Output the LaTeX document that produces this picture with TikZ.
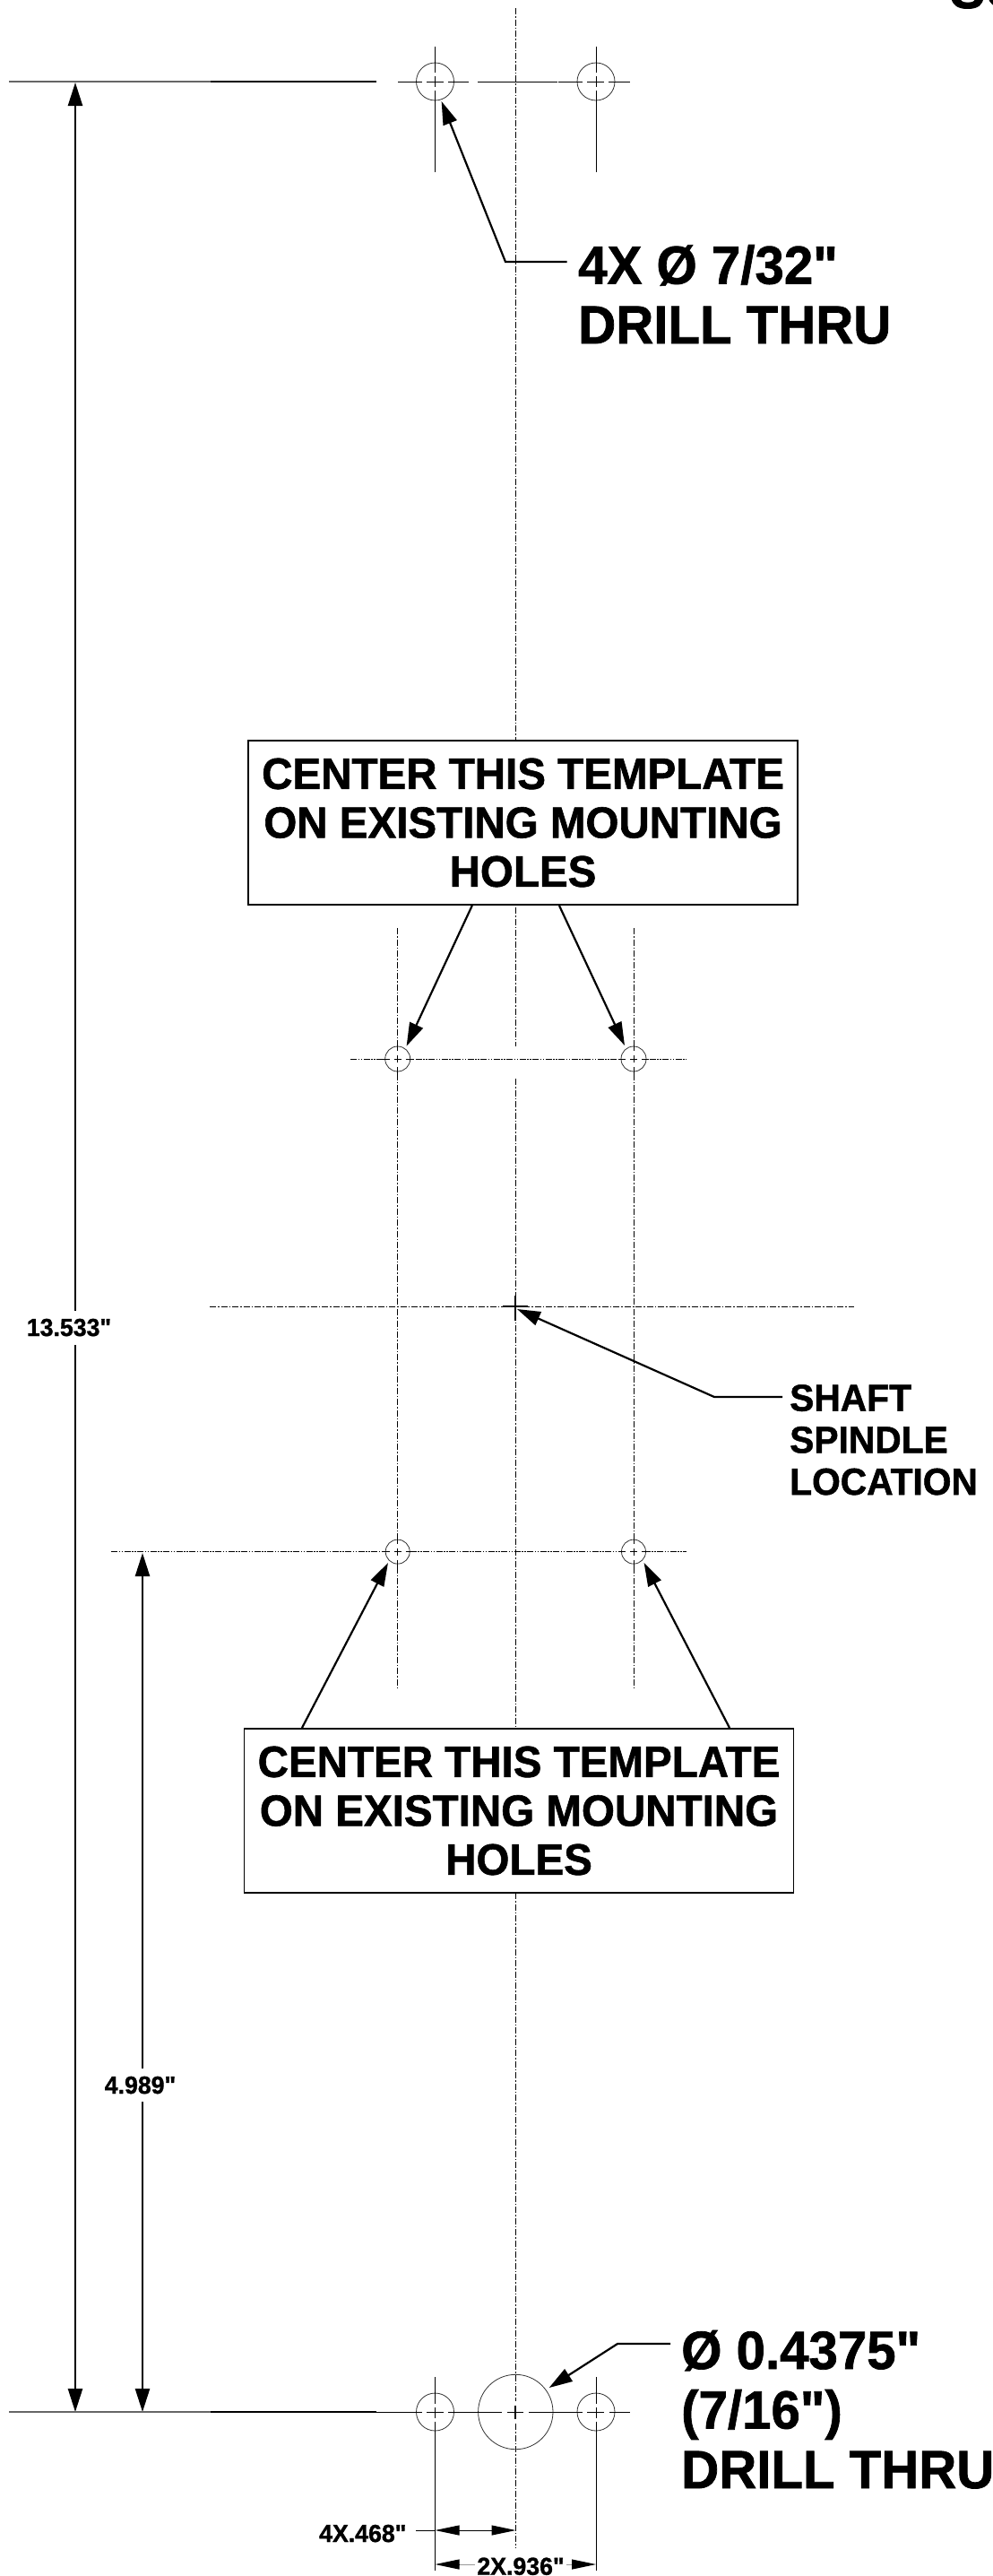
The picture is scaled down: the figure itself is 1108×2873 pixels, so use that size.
\documentclass[tikz,border=0pt]{standalone}
\usepackage{fontspec}
\defaultfontfeatures[\rmfamily]{}
\setmainfont[FakeStretch=0.97,FakeBold=1.2]{Liberation Sans}
\usetikzlibrary{arrows.meta}
\tikzset{
  x=1pt,y=-1pt,
  lab/.style={font=\bfseries\fontsize{#1}{#1}\selectfont,inner sep=0pt,anchor=base west},
  lab/.default=60,
  bigtxt/.style={font=\bfseries\fontsize{60}{66.5}\selectfont,inner sep=0pt,align=left},
  midtxt/.style={font=\bfseries\fontsize{42}{46.7}\selectfont,inner sep=0pt,align=left},
  boxtxt/.style={font=\bfseries\fontsize{49}{54.5}\selectfont,inner sep=0pt,align=center,draw=black,fill=white,minimum width=613,minimum height=183},
  dimtxt/.style={font=\bfseries\fontsize{27.5}{27.5}\selectfont,inner sep=0pt,anchor=base},
  cl/.style={line width=0.9pt,dash pattern=on 7pt off 2pt on 1.5pt off 2pt},
  cls/.style={line width=0.9pt,dash pattern=on 7pt off 1.5pt on 1.5pt off 1.5pt on 1.5pt off 1.5pt},
  thin1/.style={line width=0.9pt},
  hole/.style={circle,draw=black!80,line width=0.8pt,inner sep=0pt,fill=none},
  dimv/.style={line width=2.5pt,-{Triangle[length=26pt,width=16pt]}},
  dimh/.style={line width=1pt,-{Triangle[length=27pt,width=11pt]}},
  lead/.style={line width=2.2pt,-{Triangle[length=26pt,width=16pt]}},
  smallcross/.pic={
    \draw[white,line width=2pt] (-9,0)--(9,0) (0,-9)--(0,9);
    \draw[line width=1pt] (-4,0)--(4,0) (0,-4)--(0,4);
    \draw[line width=0.9pt] (-17,0)--(-9,0) (9,0)--(17,0) (0,-17)--(0,-9) (0,9)--(0,17);
  }
}
\begin{document}
\begin{tikzpicture}
\useasboundingbox (0,0) rectangle (1108,2873);
\clip (0,0) rectangle (1108,2873);
% coordinates
\coordinate (c0) at (575,9);
\coordinate (c1) at (575,826);
\coordinate (c2) at (575,1012);
\coordinate (c3) at (575,1167);
\coordinate (c4) at (575,1203);
\coordinate (c5) at (575,1928);
\coordinate (c6) at (575,2111);
\coordinate (c7) at (575,2678);
\coordinate (c8) at (575,2683);
\coordinate (c9) at (575,2698);
\coordinate (c10) at (575,2703);
\coordinate (c11) at (575,2842);
% centre line
\draw[cl] (c0) -- (c1);
\draw[cl] (c2) -- (c3);
\draw[cl] (c4) -- (c5);
\draw[cl] (c6) -- (c7);
\draw[line width=1.1pt] (c8) -- (c9);
\draw[cl] (c10) -- (c11);
% top holes
\node[hole,minimum size=42] (t1) at (485.5,91) {};
\node[hole,minimum size=42] (t2) at (665,91) {};
\coordinate (tv1a) at (485.5,52); \coordinate (tv1b) at (485.5,81);
\coordinate (tv1c) at (485.5,85); \coordinate (tv1d) at (485.5,97);
\coordinate (tv1e) at (485.5,101); \coordinate (tv1f) at (485.5,192);
\coordinate (tv2a) at (665,52); \coordinate (tv2b) at (665,81);
\coordinate (tv2c) at (665,85); \coordinate (tv2d) at (665,97);
\coordinate (tv2e) at (665,101); \coordinate (tv2f) at (665,192);
\draw[thin1] (tv1a)--(tv1b) (tv1c)--(tv1d) (tv1e)--(tv1f);
\draw[thin1] (tv2a)--(tv2b) (tv2c)--(tv2d) (tv2e)--(tv2f);
% top datum
\coordinate (da) at (10,91); \coordinate (db) at (235,91); \coordinate (dc) at (420,91);
\draw[line width=1.5pt,black!60] (da)--(db);
\draw[line width=1.8pt] (db)--(dc);
\coordinate (ta) at (444,91); \coordinate (tb) at (471,91);
\coordinate (tc) at (476,91); \coordinate (td) at (495,91);
\coordinate (te) at (500,91); \coordinate (tf) at (523,91);
\coordinate (tg) at (533,91); \coordinate (th) at (622,91);
\coordinate (ti) at (623,91); \coordinate (tj) at (650,91);
\coordinate (tk) at (655,91); \coordinate (tl) at (674,91);
\coordinate (tm) at (679,91); \coordinate (tn) at (703,91);
\draw[line width=1pt] (ta)--(tb) (tc)--(td) (te)--(tf) (tg)--(th) (ti)--(tj) (tk)--(tl) (tm)--(tn);
% leader top
\coordinate (l1) at (632.5,292); \coordinate (l2) at (564,292); \coordinate (l3) at (492.6,113);
\draw[lead] (l1)--(l2)--(l3);
\node[bigtxt,anchor=base west] (tt) at (645,383) {4X Ø 7/32"\\DRILL THRU};
% clipped text top right
\node[lab] (cutoff) at (1060,9) {SC};
% upper mounting
\node[hole,minimum size=28] (h1) at (443.7,1181) {};
\node[hole,minimum size=28] (h2) at (707,1181) {};
\coordinate (hl) at (391,1181); \coordinate (hr) at (766,1181);
\draw[cls] (hl)--(hr);
\coordinate (v1a) at (443.7,1035); \coordinate (v1b) at (443.7,1884);
\coordinate (v2a) at (707,1035); \coordinate (v2b) at (707,1884);
\draw[cl] (v1a)--(v1b);
\draw[cl] (v2a)--(v2b);
\node[boxtxt,line width=2.2pt] (box1) at (583.5,917.5) {CENTER THIS TEMPLATE\\ON EXISTING MOUNTING\\HOLES};
\coordinate (b1a) at (526.8,1010); \coordinate (b1b) at (453.6,1166.7);
\coordinate (b2a) at (624,1010); \coordinate (b2b) at (697,1166);
\draw[lead] (b1a)--(b1b);
\draw[lead] (b2a)--(b2b);
% spindle
\coordinate (sl) at (234,1457.4); \coordinate (sr) at (953,1457.4);
\draw[cl] (sl)--(sr);
\coordinate (x1) at (561,1457.4); \coordinate (x2) at (589,1457.4);
\coordinate (y1) at (575,1445); \coordinate (y2) at (575,1472.5);
\draw[line width=2pt] (x1)--(x2);
\draw[line width=2pt] (y1)--(y2);
\coordinate (s1) at (873,1558); \coordinate (s2) at (797,1558); \coordinate (s3) at (577,1460);
\draw[lead] (s1)--(s2)--(s3);
\node[midtxt,anchor=base west] (st) at (881,1667) {SHAFT\\SPINDLE\\LOCATION};
% lower mounting
\node[hole,minimum size=27] (h3) at (443.7,1730.6) {};
\node[hole,minimum size=27] (h4) at (707,1730.6) {};
\coordinate (ll) at (124,1730.6); \coordinate (lr) at (766,1730.6);
\draw[cls] (ll)--(lr);
\pic at (443.7,1181) {smallcross};
\pic at (707,1181) {smallcross};
\pic at (443.7,1730.6) {smallcross};
\pic at (707,1730.6) {smallcross};
\node[boxtxt,line width=1.5pt] (box2) at (579,2019.5) {CENTER THIS TEMPLATE\\ON EXISTING MOUNTING\\HOLES};
\coordinate (b3a) at (337,1927); \coordinate (b3b) at (433,1743);
\coordinate (b4a) at (814,1927); \coordinate (b4b) at (718.6,1743);
\draw[lead] (b3a)--(b3b);
\draw[lead] (b4a)--(b4b);
% vertical dims
\node[dimtxt] (d13) at (77,1490) {13.533"};
\node[dimtxt] (d4) at (156.5,2335) {4.989"};
\coordinate (a1) at (84,92); \coordinate (a2) at (84,1462); \coordinate (a3) at (84,1500); \coordinate (a4) at (84,2690);
\draw[dimv] (a2)--(a1);
\draw[dimv] (a3)--(a4);
\coordinate (e1) at (159,1732); \coordinate (e2) at (159,2307); \coordinate (e3) at (159,2344); \coordinate (e4) at (159,2690);
\draw[dimv] (e2)--(e1);
\draw[dimv] (e3)--(e4);
% bottom holes
\node[hole,minimum size=42] (b1) at (485.5,2690) {};
\node[hole,minimum size=42] (b2) at (665,2690) {};
\node[hole,minimum size=83.4] (big) at (575.3,2690) {};
\coordinate (bv1a) at (485.5,2651); \coordinate (bv1b) at (485.5,2681);
\coordinate (bv1c) at (485.5,2685); \coordinate (bv1d) at (485.5,2697);
\coordinate (bv1e) at (485.5,2701); \coordinate (bv1f) at (485.5,2867);
\coordinate (bv2a) at (665,2651); \coordinate (bv2b) at (665,2681);
\coordinate (bv2c) at (665,2685); \coordinate (bv2d) at (665,2697);
\coordinate (bv2e) at (665,2701); \coordinate (bv2f) at (665,2867);
\draw[thin1] (bv1a)--(bv1b) (bv1c)--(bv1d) (bv1e)--(bv1f);
\draw[thin1] (bv2a)--(bv2b) (bv2c)--(bv2d) (bv2e)--(bv2f);
\coordinate (bda) at (10,2690); \coordinate (bdb) at (235,2690); \coordinate (bdc) at (420,2690);
\draw[line width=1.5pt,black!60] (bda)--(bdb);
\draw[line width=1.8pt] (bdb)--(bdc);
\coordinate (q1) at (420,2690); \coordinate (q2) at (471,2690);
\coordinate (q3) at (476,2690); \coordinate (q4) at (495,2690);
\coordinate (q5) at (500,2690); \coordinate (q6) at (560,2690);
\coordinate (q7) at (566,2690); \coordinate (q8) at (584,2690);
\coordinate (q9) at (590,2690); \coordinate (q10) at (650,2690);
\coordinate (q11) at (655,2690); \coordinate (q12) at (674,2690);
\coordinate (q13) at (680,2690); \coordinate (q14) at (703,2690);
\draw[line width=1pt] (q1)--(q2) (q3)--(q4) (q5)--(q6) (q7)--(q8) (q9)--(q10) (q11)--(q12) (q13)--(q14);
\coordinate (m1) at (748,2614); \coordinate (m2) at (689,2614); \coordinate (m3) at (612.7,2663);
\draw[lead] (m1)--(m2)--(m3);
\node[bigtxt,anchor=base west] (bt) at (760,2775) {Ø 0.4375"\\(7/16")\\DRILL THRU};
% bottom dims
\node[dimtxt,anchor=base west] (d468) at (356,2835) {4X.468"};
\coordinate (f0) at (464,2822); \coordinate (f1) at (485.5,2822); \coordinate (f2) at (575.5,2822); \coordinate (fm) at (530,2822);
\draw[line width=1pt] (f0)--(f1);
\draw[dimh] (fm)--(f1);
\draw[dimh] (fm)--(f2);
\node[dimtxt] (d936) at (581,2871.7) {2X.936"};
\coordinate (g1) at (485.5,2860); \coordinate (g2) at (513,2860); \coordinate (g2b) at (530,2860);
\coordinate (g3) at (632,2860); \coordinate (g3b) at (638,2860); \coordinate (g4) at (665,2860);
\draw[line width=1pt,black!40] (g2)--(g2b) (g3)--(g3b);
\draw[dimh] (g2)--(g1);
\draw[dimh] (g3b)--(g4);
\end{tikzpicture}
\end{document}
